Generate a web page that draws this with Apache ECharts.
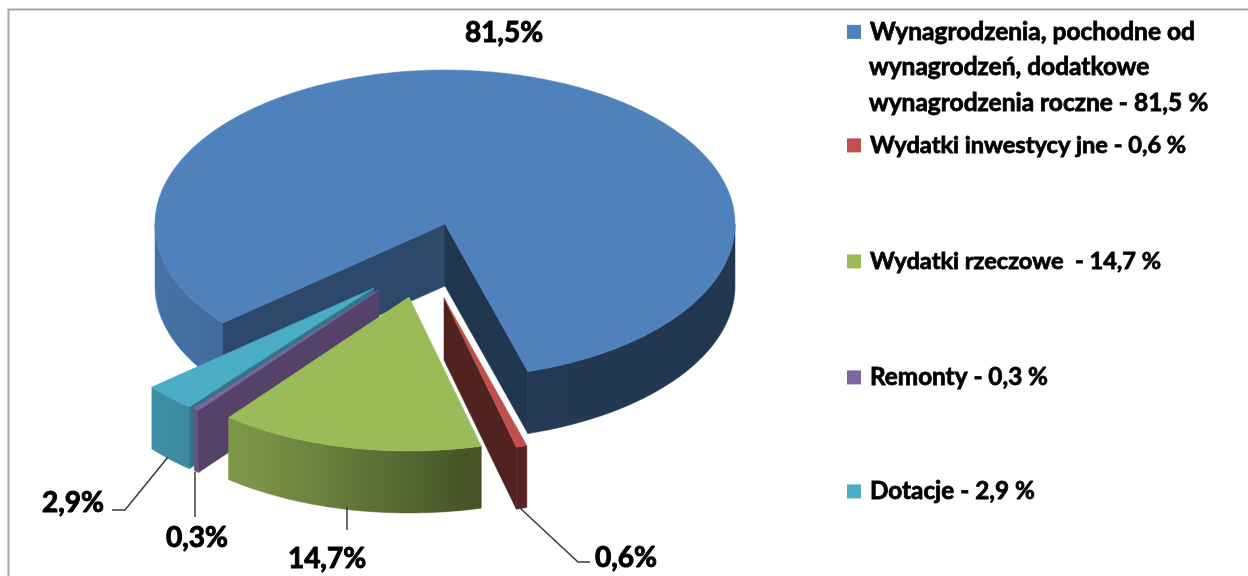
<!DOCTYPE html>
<html><head><meta charset="utf-8">
<style>html,body{margin:0;padding:0;background:#fff;overflow:hidden}#c{width:1248px;height:576px}</style>
<script src="https://cdn.jsdelivr.net/npm/echarts@6/dist/echarts.min.js"></script>
</head><body><div id="c"></div>
<script>
// ---- data ----
const categories = [
  'Wynagrodzenia, pochodne od\nwynagrodzeń, dodatkowe\nwynagrodzenia roczne - 81,5 %',
  'Wydatki inwestycy jne - 0,6 %',
  'Wydatki rzeczowe  - 14,7 %',
  'Remonty - 0,3 %',
  'Dotacje - 2,9 %'
];
const shares = [81.5, 0.6, 14.7, 0.3, 2.9];
const shareLabels = ['81,5%', '0,6%', '14,7%', '0,3%', '2,9%'];

// ---- styling and layout ----
const colors = ['#4F81BD', '#C0504D', '#9BBB59', '#8064A2', '#4BACC6'];
const apex = [[445,224],[444,298],[409,297],[379,290],[374,288]];
const drawOrder = [1, 5, 4, 3, 2];              // z of each slice
const radialShade = [[0.56, 0.42],[0.42,0.42],[0.5,0.5],[0.66,0.66],[0.68,0.68]]; // start edge, end edge
const labelPos = [[504,33],[626,558],[327,559],[197,538],[73,503]];
const leaders = [null,
  [[520,508],[578,562],[590,562]],
  [[347,507],[347,530]],
  [[195,472],[195,517]],
  [[168,457],[125,510],[112,510]]];
const legendY = [31, 145, 261, 377, 491];
const extraLineY = [67, 103];
const RX = 290, RY = 154, DEPTH = 62, START = 230;
const labelFont = 'bold 28px "Lato"';
const legendFontSizes = [24.5, 23.6, 23.6, 24.3, 24.3];

function scale(hex, f) {
  const n = parseInt(hex.slice(1), 16);
  const c = [n >> 16, (n >> 8) & 255, n & 255].map(v => Math.round(v * f));
  return 'rgb(' + c.join(',') + ')';
}
function pt(c, b, dy) {
  const a = b * Math.PI / 180;
  return [c[0] + RX * Math.sin(a), c[1] - RY * Math.cos(a) + (dy || 0)];
}
function arc(c, a, b, dy) {
  const out = [], n = Math.max(2, Math.ceil(Math.abs(b - a)));
  for (let i = 0; i <= n; i++) out.push(pt(c, a + (b - a) * i / n, dy));
  return out;
}
function wallFill(c, color) {
  return new echarts.graphic.LinearGradient(c[0] - RX, 0, c[0] + RX, 0, [
    {offset: 0, color: scale(color, 0.88)},
    {offset: 0.25, color: scale(color, 0.78)},
    {offset: 0.6, color: scale(color, 0.45)},
    {offset: 1, color: scale(color, 0.42)}
  ], true);
}
function range(i) {
  let s = START;
  for (let k = 0; k < i; k++) s += shares[k] * 3.6;
  return [s, s + shares[i] * 3.6];
}
function polyEl(points, fill) {
  return {type: 'polygon', shape: {points}, style: {fill, stroke: fill, lineWidth: 0.5}};
}
function render(i) {
  return function (params, api) {
    const v = api.value(0), c = apex[i], color = colors[i];
    const s = range(i)[0], e = s + v * 3.6;
    const children = [];
    const norm = b => ((b % 360) + 360) % 360;
    // visible parts of the outer rim: the front half of the ellipse, bearings 90..270
    [[90, 270], [450, 630]].forEach(w => {
      const a = Math.max(s, w[0]), b = Math.min(e, w[1]);
      if (b > a) {
        const top = arc(c, a, b, 0), bottom = arc(c, b, a, DEPTH);
        children.push(polyEl(top.concat(bottom), wallFill(c, color)));
      }
    });
    // radial walls
    if (norm(s) > 180) {
      const p = pt(c, s);
      children.push(polyEl([c, p, [p[0], p[1] + DEPTH], [c[0], c[1] + DEPTH]], scale(color, radialShade[i][0])));
    }
    if (norm(e) < 180) {
      const p = pt(c, e);
      children.push(polyEl([c, p, [p[0], p[1] + DEPTH], [c[0], c[1] + DEPTH]], scale(color, radialShade[i][1])));
    }
    // top face
    children.push(polyEl([c].concat(arc(c, s, e, 0)), color));
    // leader line and value label
    if (leaders[i]) {
      children.push({type: 'polyline', shape: {points: leaders[i]},
        style: {stroke: '#3a3a3a', lineWidth: 1.5, fill: null}});
    }
    children.push({type: 'text', x: labelPos[i][0], y: labelPos[i][1], style: {
      text: shareLabels[i], font: labelFont, fill: '#000', align: 'center', verticalAlign: 'middle',
      stroke: '#000', lineWidth: 1}});
    return {type: 'group', children};
  };
}
const chart = echarts.init(document.getElementById('c'), null, {renderer: 'canvas'});
const firstLine = t => t.split('\n')[0];
const extraLines = categories[0].split('\n').slice(1);
chart.setOption({
  animation: false,
  backgroundColor: '#fff',
  legend: categories.map((n, i) => ({
    data: [n], left: 847, top: legendY[i] - 12, padding: 0, itemWidth: 14, itemHeight: 14,
    icon: 'rect', selectedMode: false, formatter: firstLine,
    textStyle: {fontFamily: 'Lato', fontWeight: 'bold', fontSize: legendFontSizes[i], color: '#000',
      padding: [0, 0, 0, 4], textBorderColor: '#000', textBorderWidth: 0.8}
  })),
  graphic: [
    {type: 'rect', silent: true, z: -1, shape: {x: 8.5, y: 9.5, width: 1400, height: 800},
      style: {fill: 'none', stroke: '#a6a6a6', lineWidth: 2}}
  ].concat(extraLines.map((t, k) => ({
    type: 'text', x: 869, y: extraLineY[k], silent: true,
    style: {text: t, font: 'bold ' + legendFontSizes[0] + 'px Lato', fill: '#000', stroke: '#000', lineWidth: 0.8, verticalAlign: 'middle'}
  }))),
  series: categories.map((n, i) => ({
    type: 'custom', name: n, coordinateSystem: 'none', z: drawOrder[i], silent: true,
    itemStyle: {color: colors[i]}, renderItem: render(i), data: [[shares[i]]]
  }))
});
</script></body></html>
